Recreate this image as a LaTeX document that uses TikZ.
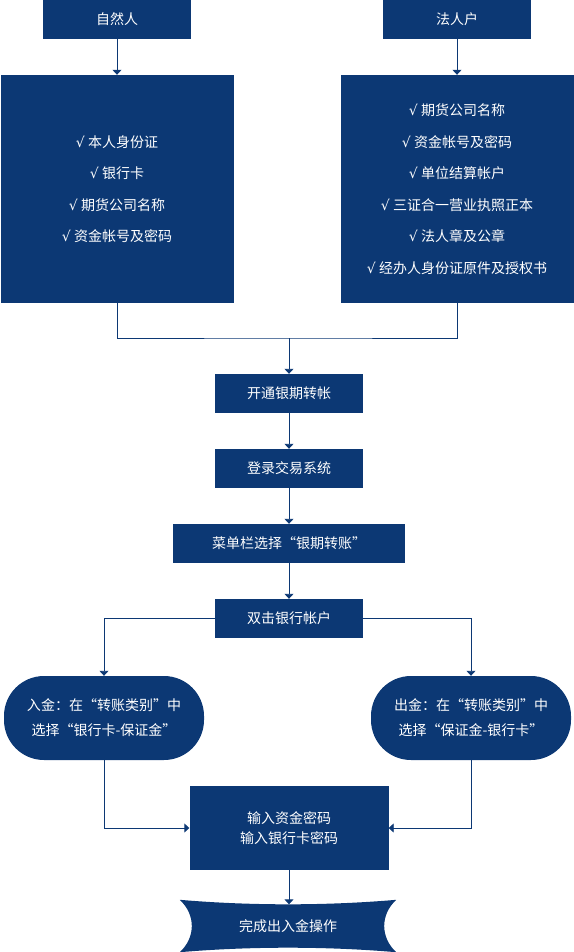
\documentclass[tikz,border=0pt]{standalone}
\usepackage{fontspec}
\setmainfont{Noto Sans CJK SC}
\newfontfamily\symfont{DejaVu Sans}
\newcommand{\ck}{{\symfont √}\ }
\usetikzlibrary{arrows.meta, positioning, calc, backgrounds}
\definecolor{navy}{RGB}{12,56,116}

\begin{document}
\begin{tikzpicture}[x=1pt, y=-1pt, font=\fontsize{14}{20}\selectfont,
    box/.style={fill=navy, text=white, inner sep=0pt, minimum width=148pt, minimum height=39pt},
    bigbox/.style={box, minimum width=233pt, minimum height=228pt, align=center, font=\fontsize{14}{31.5}\selectfont},
    pill/.style={box, minimum width=200pt, minimum height=84pt, rounded corners=40pt, align=center, font=\fontsize{14}{25}\selectfont},
    link/.style={draw=navy, line width=0.9pt},
    arr/.style={link, -{Triangle[width=9pt, length=5pt]}}
]
    \useasboundingbox (0,0) rectangle (573,952);

    % sources
    \node[box] (person) at (117,19.5) {自然人};
    \node[box] (firm) at (457,19.5) {法人户};
    \node[bigbox] (docsA) at (117,189) {\ck 本人身份证\\\ck 银行卡\\\ck 期货公司名称\\\ck 资金帐号及密码};
    \node[bigbox] (docsB) at (457,189) {\ck 期货公司名称\\\ck 资金帐号及密码\\\ck 单位结算帐户\\\ck 三证合一营业执照正本\\\ck 法人章及公章\\\ck 经办人身份证原件及授权书};

    % main steps
    \node[box] (open) at (289,393.5) {开通银期转帐};
    \node[box] (login) at (289,468.5) {登录交易系统};
    \node[box, minimum width=232pt] (menu) at (289,543.5) {菜单栏选择“银期转账”};
    \node[box] (dbl) at (289,618.5) {双击银行帐户};
    \node[pill] (inpill) at (104,718) {入金：在“转账类别”中\\选择“银行卡-保证金”};
    \node[pill] (outpill) at (471,718) {出金：在“转账类别”中\\选择“保证金-银行卡”};
    \node[box, minimum width=199pt, minimum height=84pt, align=center] (pwd) at (289,828) {输入资金密码\\输入银行卡密码};
    \node[text=white, minimum width=216pt, minimum height=52pt, inner sep=0pt] (done) at (288,926) {完成出入金操作};
    \begin{scope}[on background layer]
        \fill[navy] (done.north west)
            .. controls ($(done.north west)+(70,6)$) and ($(done.north east)+(-70,6)$) .. (done.north east)
            .. controls ($(done.north east)+(-16,15)$) and ($(done.south east)+(-16,-15)$) .. (done.south east)
            .. controls ($(done.south east)+(-70,-6)$) and ($(done.south west)+(70,-6)$) .. (done.south west)
            .. controls ($(done.south west)+(16,-15)$) and ($(done.north west)+(16,15)$) .. (done.north west) -- cycle;
    \end{scope}
    \coordinate (join) at (289,338);
    \coordinate (donetop) at ($(done.north)+(0,4.5)$);

    % connectors
    \draw[arr] (person) -- (docsA);
    \draw[arr] (firm) -- (docsB);
    \draw[link] (docsA.south) |- (join) -| (docsB.south);
    \draw[arr] (join) -- (open);
    \draw[arr] (open) -- (login);
    \draw[arr] (login) -- (menu);
    \draw[arr] (menu) -- (dbl);
    \draw[arr] (dbl.west) -| (inpill.north);
    \draw[arr] (dbl.east) -| (outpill.north);
    \draw[arr] (inpill.south) |- (pwd.west);
    \draw[arr] (outpill.south) |- (pwd.east);
    \draw[arr] (pwd.south) -- (pwd.south |- donetop);
\end{tikzpicture}
\end{document}
